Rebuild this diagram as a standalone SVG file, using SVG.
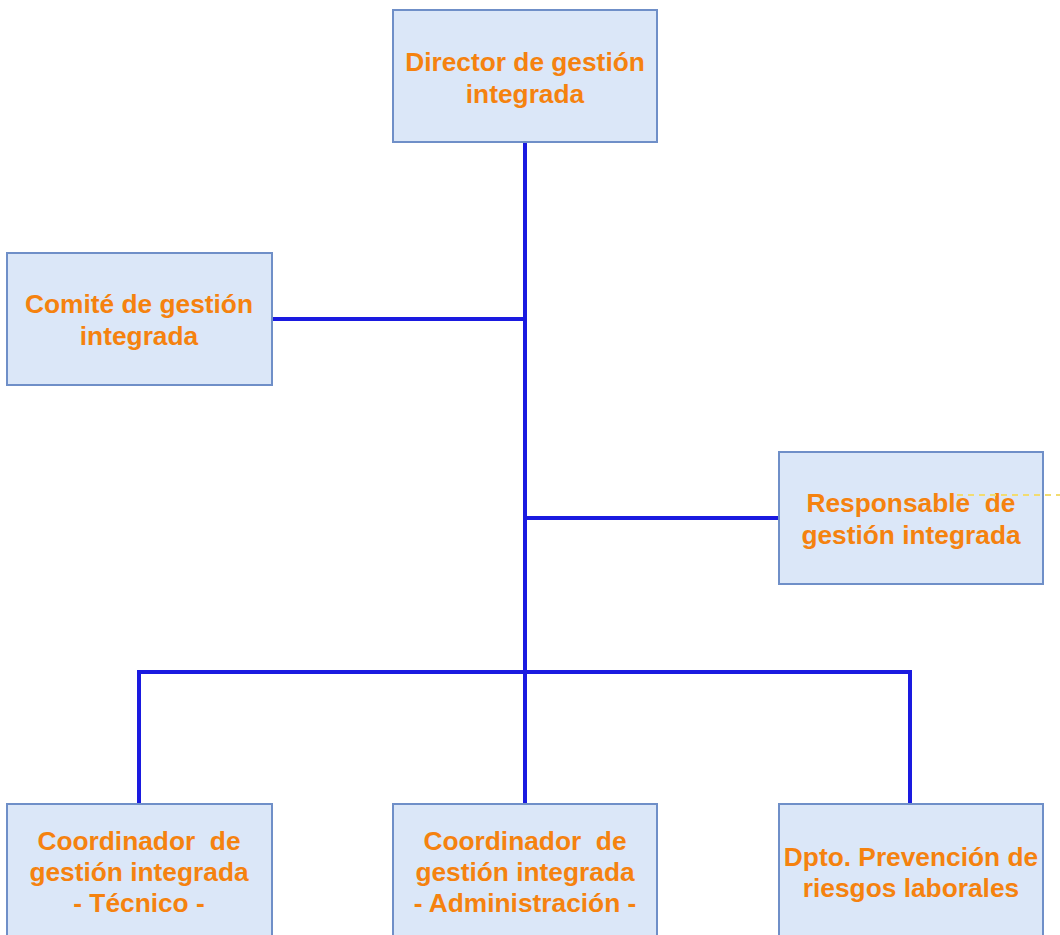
<svg xmlns="http://www.w3.org/2000/svg" width="1060" height="935" viewBox="0 0 1060 935">
<style>
.box{fill:#dbe7f8;stroke:#6f8fc8;stroke-width:2}
.t{font-family:"Liberation Sans",Arial,sans-serif;font-weight:bold;font-size:26.3px;fill:#f5820f;text-anchor:middle}
.c{stroke:#1a1ae0;stroke-width:4;fill:none}
</style>
<rect width="1060" height="935" fill="#fff"/>
<g id="connectors">
<path class="c" d="M525 142V804M272 319H525M525 518H779M139 804V672H910V804"/>
</g>
<g id="director"><rect class="box" x="393" y="10" width="264" height="132"/><text class="t" x="525" y="71">Director de gestión</text><text class="t" x="525" y="103">integrada</text></g>
<g id="comite"><rect class="box" x="7" y="253" width="265" height="132"/><text class="t" x="139" y="313">Comité de gestión</text><text class="t" x="139" y="345">integrada</text></g>
<g id="responsable"><rect class="box" x="779" y="452" width="264" height="132"/><text class="t" x="911" y="512" xml:space="preserve">Responsable  de</text><text class="t" x="911" y="544">gestión integrada</text></g>
<g id="tecnico"><rect class="box" x="7" y="804" width="265" height="140"/><text class="t" x="139" y="850" xml:space="preserve">Coordinador  de</text><text class="t" x="139" y="881">gestión integrada</text><text class="t" x="139" y="912">- Técnico -</text></g>
<g id="administracion"><rect class="box" x="393" y="804" width="264" height="140"/><text class="t" x="525" y="850" xml:space="preserve">Coordinador  de</text><text class="t" x="525" y="881">gestión integrada</text><text class="t" x="525" y="912">- Administración -</text></g>
<g id="prevencion"><rect class="box" x="779" y="804" width="264" height="140"/><text class="t" x="911" y="866">Dpto. Prevención de</text><text class="t" x="911" y="897">riesgos laborales</text></g>
<path d="M957 495H1060" stroke="#f2dc70" stroke-width="2" stroke-dasharray="6,5" fill="none"/>
</svg>
